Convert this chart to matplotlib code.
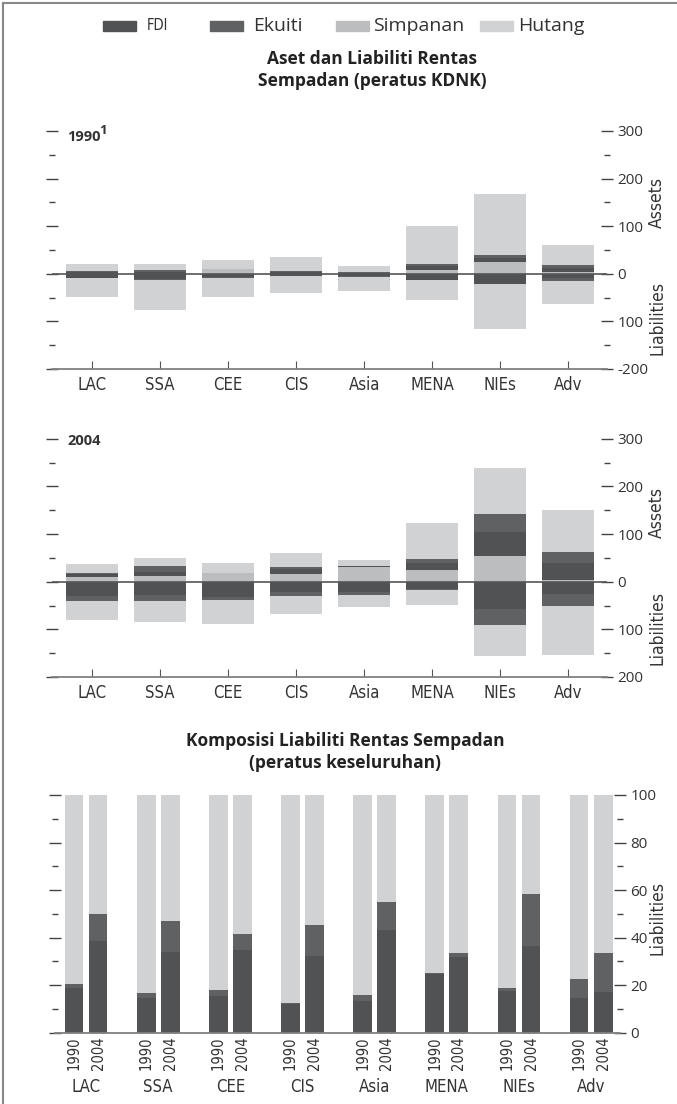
import matplotlib
matplotlib.use("Agg")
import matplotlib.pyplot as plt
import matplotlib.transforms as mtransforms
from matplotlib import font_manager
import numpy as np
from matplotlib.lines import Line2D
from matplotlib.patches import Rectangle
from matplotlib.ticker import MultipleLocator, FixedLocator, FixedFormatter

# data (percent of GDP / percent of total)
regions = ['LAC', 'SSA', 'CEE', 'CIS', 'Asia', 'MENA', 'NIEs', 'Adv']

# 1990 assets (stacked from zero: Simpanan, FDI, Ekuiti, Hutang)
simpanan_a90 = [0, 0, 9.5, 0, 0, 7.7, 25.2, 3.5]
fdi_a90 = [3, 4, 0.5, 3, 1.5, 9, 9, 8]
ekuiti_a90 = [2.6, 4.4, 0.5, 2.6, 1.3, 3.6, 4.3, 6]
hutang_a90 = [14, 11.2, 17.5, 29.4, 12.6, 80.5, 128.2, 43.5]
# 1990 liabilities
fdi_l90 = [9.1, 11.1, 7.4, 4.9, 4.9, 13.5, 20.5, 9.3]
ekuiti_l90 = [0.7, 1.6, 1.2, 0.2, 0.9, 0.2, 1.2, 5.0]
hutang_l90 = [38.2, 62.9, 39.4, 35.5, 31.2, 40.9, 94.3, 48.7]

# 2004 assets
simpanan_a04 = [9.1, 11.2, 17.5, 16.8, 31, 23.8, 53, 3]
fdi_a04 = [6.8, 10, 1, 9, 1, 15, 52, 35.5]
ekuiti_a04 = [3, 12.4, 0.5, 5, 0.5, 8.1, 36, 24.4]
hutang_a04 = [18.9, 16.8, 20.2, 29.4, 13.7, 75.5, 98, 86.8]
# 2004 liabilities
fdi_l04 = [30.8, 28.6, 31.3, 22.0, 22.7, 15.8, 56.6, 26.3]
ekuiti_l04 = [9.0, 10.9, 6.1, 8.8, 6.1, 0.9, 33.8, 25.1]
hutang_l04 = [40.0, 44.5, 52.2, 37.1, 23.7, 33.0, 64.6, 102.4]

# composition of liabilities (percent of total)
fdi_pct90 = [18.9, 14.7, 15.4, 12.1, 13.3, 24.8, 17.7, 14.7]
ekuiti_pct90 = [1.6, 2.1, 2.6, 0.5, 2.5, 0.3, 1.0, 7.9]
hutang_pct90 = [79.5, 83.2, 82.0, 87.4, 84.2, 74.9, 81.3, 77.4]
fdi_pct04 = [38.6, 34.1, 34.9, 32.4, 43.2, 31.8, 36.5, 17.1]
ekuiti_pct04 = [11.3, 13.0, 6.8, 12.9, 11.6, 1.9, 21.8, 16.3]
hutang_pct04 = [50.1, 52.9, 58.3, 54.7, 45.2, 66.3, 41.7, 66.6]

years = ['1990', '2004']
legend_names = ['FDI', 'Ekuiti', 'Simpanan', 'Hutang']

c_fdi = '#515254'
c_ekuiti = '#606163'
c_simpanan = '#bcbdbf'
c_hutang = '#d1d2d4'
txt = '#333333'
sans = ['Open Sans', 'DejaVu Sans']

# condensed font for category labels, whichever is installed
installed = {f.name for f in font_manager.fontManager.ttflist}
if 'Liberation Sans Narrow' in installed:
    narrow = dict(family='Liberation Sans Narrow')
elif 'DejaVu Sans Condensed' in installed:
    narrow = dict(family='DejaVu Sans Condensed')
else:
    narrow = dict(family='DejaVu Sans', stretch='condensed')

W, H = 677, 1104
fig = plt.figure(figsize=(W / 100, H / 100), dpi=100)


def fx(px):
    return px / W


def fy(py):
    return 1 - py / H


# frame line on left and top
fig.add_artist(Line2D([fx(3), fx(3)], [fy(3), 0], color='#888888', lw=1.5))
fig.add_artist(Line2D([fx(3), 1], [fy(3), fy(3)], color='#888888', lw=1.5))

# legend drawn by hand
leg_colors = [c_fdi, c_ekuiti, c_simpanan, c_hutang]
patch_x = [103, 210, 336, 480]
text_x = [141, 253, 373, 518]
for name, col, px, tx in zip(legend_names, leg_colors, patch_x, text_x):
    fig.add_artist(Rectangle((fx(px), fy(31)), 33 / W, 10 / H, color=col,
                             transform=fig.transFigure))
    if name == 'FDI':
        fig.text(fx(tx + 6), fy(26), name, fontsize=10.5, color=txt,
                 va='center', **narrow)
    else:
        fig.text(fx(tx), fy(26), name, fontsize=14, family=sans,
                 color=txt, va='center')

fig.text(fx(372), fy(70), 'Aset dan Liabiliti Rentas\nSempadan (peratus KDNK)',
         ha='center', va='center', fontsize=12.5, fontweight='bold',
         family=sans, color='#222222', linespacing=1.25)

x = np.arange(len(regions))


def draw_panel(ax, assets, liabs, bottom_label):
    cols_a = [c_simpanan, c_fdi, c_ekuiti, c_hutang]
    base = np.zeros(len(regions))
    for vals, col in zip(assets, cols_a):
        ax.bar(x, vals, 0.765, bottom=base, color=col, linewidth=0)
        base = base + np.array(vals)
    cols_l = [c_fdi, c_ekuiti, c_hutang]
    base = np.zeros(len(regions))
    for vals, col in zip(liabs, cols_l):
        ax.bar(x, -np.array(vals), 0.765, bottom=base, color=col, linewidth=0)
        base = base - np.array(vals)
    ax.axhline(0, color='#555555', lw=1.2, zorder=3)
    ax.set_ylim(-200, 300)
    ax.set_xlim(-0.59, 7.57)
    for s in ['left', 'right', 'top']:
        ax.spines[s].set_visible(False)
    ax.spines['bottom'].set_color('#808080')
    ax.spines['bottom'].set_linewidth(1.3)
    ax.yaxis.set_major_locator(FixedLocator([-200, -100, 0, 100, 200, 300]))
    ax.yaxis.set_major_formatter(FixedFormatter(
        [bottom_label, '100', '0', '100', '200', '300']))
    ax.yaxis.set_minor_locator(MultipleLocator(50))
    ax.tick_params(axis='y', which='both', left=True, right=True,
                   labelleft=False, labelright=True, direction='inout',
                   color='#444444', labelsize=11, labelcolor=txt, pad=3)
    ax.tick_params(axis='y', which='major', length=9, width=1)
    ax.tick_params(axis='y', which='minor', length=4, width=1)
    for lab in ax.get_yticklabels():
        lab.set_family(sans)
    ax.set_xticks(x)
    ax.set_xticklabels(regions, fontsize=12, color=txt, **narrow)
    ax.tick_params(axis='x', direction='in', length=6, color='#555555', pad=5)


ax1 = fig.add_axes([fx(52), fy(369), 555 / W, 238 / H])
draw_panel(ax1, [simpanan_a90, fdi_a90, ekuiti_a90, hutang_a90],
           [fdi_l90, ekuiti_l90, hutang_l90], '-200')
ax1.text(fx(67), fy(137), '1990', transform=fig.transFigure, fontsize=10.5,
         fontweight='bold', family=sans, color=txt, va='center')
ax1.text(fx(99), fy(130), '1', transform=fig.transFigure, fontsize=9.5,
         fontweight='bold', family=sans, color=txt, va='center')

ax2 = fig.add_axes([fx(52), fy(677), 555 / W, 238.3 / H])
draw_panel(ax2, [simpanan_a04, fdi_a04, ekuiti_a04, hutang_a04],
           [fdi_l04, ekuiti_l04, hutang_l04], '200')
ax2.text(fx(67), fy(441), '2004', transform=fig.transFigure, fontsize=10.5,
         fontweight='bold', family=sans, color=txt, va='center')

for yc_a, yc_l in [(202, 318), (512, 628)]:
    fig.text(fx(657), fy(yc_a), 'Assets', rotation=90, ha='center',
             va='center', fontsize=12.5, color=txt, **narrow)
    fig.text(fx(657), fy(yc_l), 'Liabilities', rotation=90, ha='center',
             va='center', fontsize=12.5, color=txt, **narrow)

# composition panel
fig.text(fx(345), fy(752), 'Komposisi Liabiliti Rentas Sempadan\n(peratus keseluruhan)',
         ha='center', va='center', fontsize=12.5, fontweight='bold',
         family=sans, color='#222222', linespacing=1.25)

ax3 = fig.add_axes([fx(55), fy(1032.7), 565 / W, 237.7 / H])
off = 0.167
bw = 0.26
for shift, f, e, h in [(-off, fdi_pct90, ekuiti_pct90, hutang_pct90),
                       (off, fdi_pct04, ekuiti_pct04, hutang_pct04)]:
    ax3.bar(x + shift, f, bw, color=c_fdi, linewidth=0)
    ax3.bar(x + shift, e, bw, bottom=f, color=c_ekuiti, linewidth=0)
    ax3.bar(x + shift, h, bw, bottom=np.array(f) + np.array(e),
            color=c_hutang, linewidth=0)
ax3.set_ylim(0, 100)
ax3.set_xlim(-0.43, 7.40)
for s in ['left', 'right', 'top']:
    ax3.spines[s].set_visible(False)
ax3.spines['bottom'].set_color('#808080')
ax3.spines['bottom'].set_linewidth(1.3)
ax3.yaxis.set_major_locator(MultipleLocator(20))
ax3.yaxis.set_minor_locator(MultipleLocator(10))
ax3.tick_params(axis='y', which='both', left=True, right=True,
                labelleft=False, labelright=True, direction='inout',
                color='#444444', labelsize=11, labelcolor=txt, pad=3)
ax3.tick_params(axis='y', which='major', length=9, width=1)
ax3.tick_params(axis='y', which='minor', length=4, width=1)
for lab in ax3.get_yticklabels():
    lab.set_family(sans)
ax3.set_xticks(np.concatenate([x - off, x + off]))
ax3.set_xticklabels([years[0]] * len(regions) + [years[1]] * len(regions),
                    rotation=90, fontsize=10.5, color=txt, **narrow)
ax3.tick_params(axis='x', length=0, pad=3)
trans = mtransforms.blended_transform_factory(ax3.transData, fig.transFigure)
for i, r in enumerate(regions):
    ax3.text(i, fy(1087), r, transform=trans, ha='center', va='center',
             fontsize=12, color=txt, **narrow)
fig.text(fx(657), fy(918), 'Liabilities', rotation=90, ha='center',
         va='center', fontsize=12.5, color=txt, **narrow)

fig.savefig('out.png', dpi=100)
